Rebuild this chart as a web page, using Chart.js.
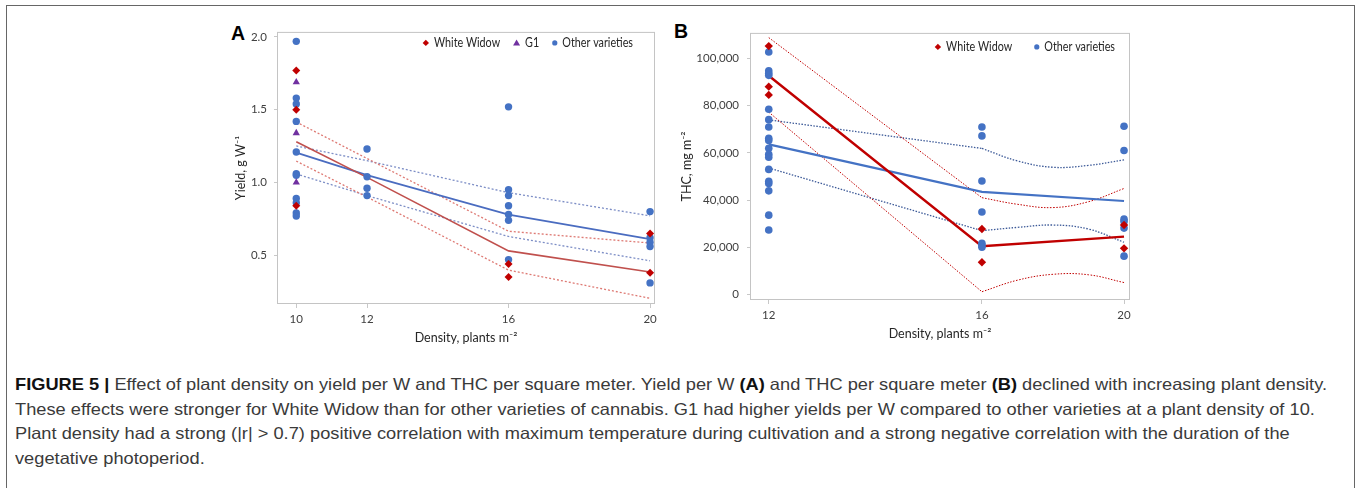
<!DOCTYPE html>
<html>
<head>
<meta charset="utf-8">
<script src="https://cdn.jsdelivr.net/npm/chart.js@4.4.1/dist/chart.umd.min.js"></script>
<style>
  body { margin:0; background:#fff; width:1357px; height:488px; overflow:hidden; position:relative; }
  .frame { position:absolute; left:6px; top:5px; width:1347px; height:520px; border:1.5px solid #666; }
  canvas { position:absolute; }
  .panel { position:absolute; font:bold 19.5px "Liberation Sans", Arial, sans-serif; line-height:1; color:#000; }
  .cap { position:absolute; left:15px; white-space:nowrap; font-size:16.5px; line-height:18px; color:#3a3a3a;
         font-family:"Liberation Sans Narrow","Liberation Sans",Arial,sans-serif; transform-origin:0 0; }
  .cap b { color:#111; }
</style>
</head>
<body>
<div class="frame"></div>
<div class="panel" style="left:231px;top:23.5px">A</div>
<div class="panel" style="left:674px;top:21.5px">B</div>
<canvas id="chartA" width="440" height="335" style="left:225px;top:18px"></canvas>
<canvas id="chartB" width="462" height="335" style="left:678px;top:18px"></canvas>

<div class="cap" style="top:375px"><b>FIGURE 5 |</b> Effect of plant density on yield per W and THC per square meter. Yield per W <b>(A)</b> and THC per square meter <b>(B)</b> declined with increasing plant density.</div>
<div class="cap" style="top:399.5px">These effects were stronger for White Widow than for other varieties of cannabis. G1 had higher yields per W compared to other varieties at a plant density of 10.</div>
<div class="cap" style="top:424px">Plant density had a strong (|r| &gt; 0.7) positive correlation with maximum temperature during cultivation and a strong negative correlation with the duration of the</div>
<div class="cap" style="top:448.5px">vegetative photoperiod.</div>

<script>
// ---- panel A : yield per W ----
const densityA = [10, 12, 16, 20];
const whiteWidowA = [[1.77, 1.50, 0.84], [], [0.44, 0.35], [0.65, 0.38]];
const g1A = [[1.69, 1.34, 1.00], [], [], []];
const otherA = [
  [1.97, 1.58, 1.54, 1.42, 1.21, 1.06, 1.05, 0.89, 0.86, 0.79, 0.77],
  [1.23, 1.04, 0.96, 0.91],
  [1.52, 0.95, 0.91, 0.84, 0.78, 0.74, 0.47],
  [0.80, 0.62, 0.59, 0.56, 0.31]
];
const wwFitA = [1.28, 1.035, 0.53, 0.385];
const wwUpperA = [1.416, 1.165, 0.665, 0.584];
const wwLowerA = [1.147, 0.90, 0.398, 0.204];
const otherFitA = [1.206, 1.05, 0.78, 0.611];
const otherUpperA = [1.251, 1.15, 0.93, 0.771];
const otherLowerA = [1.059, 0.91, 0.629, 0.462];
const yTicksA = [0.5, 1.0, 1.5, 2.0];

// ---- panel B : THC per square meter ----
const densityB = [12, 16, 20];
const whiteWidowB = [[105300, 88100, 84600], [27700, 13600], [29400, 19500]];
const otherB = [
  [102800, 94800, 93800, 92900, 78500, 74100, 71000, 66200, 65300, 62000, 59400, 58200, 53000, 48000, 47000, 43900, 33600, 27300],
  [71000, 67200, 48100, 34900, 21700, 20700, 20000],
  [71300, 61000, 31900, 30900, 28100, 16200]
];
const wwFitB = [92700, 20400, 24500];
const otherFitB = [63600, 43500, 39600];
// bands: straight from 12 to 16, smooth curve from 16 to 20
const bandDensB = [12, 16, 17, 18, 19, 20];
const wwUpperB = [108900, 41000, 38200, 36800, 39300, 44900];
const wwLowerB = [77300, 1100, 6000, 8500, 8300, 5000];
const otherUpperB = [74000, 61900, 56600, 53900, 54700, 57000];
const otherLowerB = [53600, 27000, 28400, 29400, 27700, 22100];
const yTicksB = [0, 20000, 40000, 60000, 80000, 100000];

Chart.defaults.font.family = 'Lato, "Open Sans", sans-serif';
Chart.defaults.animation = false;

const pts = (xs, groups) => groups.flatMap((vals, i) => vals.map(v => ({x: xs[i], y: v})));
const line = (xs, ys) => ys.map((v, i) => ({x: xs[i], y: v}));

// the B axis places 12, 16, 20 at uneven spacing (3 slots then 2 slots)
const slotB = d => d <= 16 ? (d - 12) * 0.75 : 3 + (d - 16) * 0.5;

function marker(ctx, style, x, y, r, color) {
  ctx.fillStyle = color;
  ctx.beginPath();
  if (style === 'circle') ctx.arc(x, y, r, 0, Math.PI * 2);
  else if (style === 'rectRot') { ctx.moveTo(x, y - r); ctx.lineTo(x + r, y); ctx.lineTo(x, y + r); ctx.lineTo(x - r, y); }
  else { ctx.moveTo(x, y - r); ctx.lineTo(x + r, y + r * 0.75); ctx.lineTo(x - r, y + r * 0.75); }
  ctx.closePath();
  ctx.fill();
}

const SQUEEZE = 0.86; // legend font in the figure is narrower than Lato

const framePlugin = {
  id: 'frameLegend',
  beforeDatasetsDraw(chart) {
    const {ctx, chartArea: a} = chart;
    ctx.save();
    ctx.strokeStyle = '#c4c4c4';
    ctx.lineWidth = 1;
    ctx.strokeRect(a.left + 0.5, a.top + 0.5, a.right - a.left - 1, a.bottom - a.top - 1);
    ctx.restore();
  },
  afterDraw(chart, args, opts) {
    const {ctx, chartArea: a} = chart;
    ctx.save();
    ctx.font = '12.5px Lato, "Open Sans", sans-serif';
    ctx.textBaseline = 'middle';
    const tw = opts.items.map(it => ctx.measureText(it.text).width * SQUEEZE);
    const widths = opts.items.map((it, i) => it.r * 2 + 5 + tw[i]);
    const total = widths.reduce((s, w) => s + w, 0) + opts.gap * (opts.items.length - 1);
    let x = a.right - opts.right - total;
    const y = a.top + opts.top;
    opts.items.forEach((it, i) => {
      marker(ctx, it.style, x + it.r, y, it.r, it.color);
      ctx.save();
      ctx.translate(x + it.r * 2 + 5, y + 0.5);
      ctx.scale(SQUEEZE, 1);
      ctx.fillStyle = '#262626';
      ctx.fillText(it.text, 0, 0);
      ctx.restore();
      x += widths[i] + opts.gap;
    });
    ctx.restore();
  }
};

const tickFont = {size: 11.5};
const titleFont = {size: 12.5};

function pointSet(label, data, style, r, color) {
  return {label, data, showLine: false, pointStyle: style, pointRadius: r, pointHoverRadius: r,
          pointBackgroundColor: color, pointBorderWidth: 0, backgroundColor: color};
}
function lineSet(label, data, color, width, dash, tension) {
  return {label, data, showLine: true, pointRadius: 0, borderColor: color, borderWidth: width,
          borderDash: dash || [], tension: tension || 0, fill: false};
}

new Chart(document.getElementById('chartA'), {
  type: 'scatter',
  data: {
    datasets: [
      pointSet('White Widow', pts(densityA, whiteWidowA), 'rectRot', 4, '#c00000'),
      pointSet('G1', pts(densityA, g1A), 'triangle', 4.2, '#7030a0'),
      pointSet('Other varieties', pts(densityA, otherA), 'circle', 3.7, '#4472c4'),
      lineSet('WW fit', line(densityA, wwFitA), '#c0504d', 1.6),
      lineSet('Other fit', line(densityA, otherFitA), '#4a6cc0', 1.8),
      lineSet('WW upper', line(densityA, wwUpperA), '#de7a74', 1.3, [2, 2]),
      lineSet('WW lower', line(densityA, wwLowerA), '#de7a74', 1.3, [2, 2]),
      lineSet('Other upper', line(densityA, otherUpperA), '#7d8ec6', 1.3, [2, 2]),
      lineSet('Other lower', line(densityA, otherLowerA), '#7d8ec6', 1.3, [2, 2])
    ]
  },
  options: {
    responsive: false,
    layout: {padding: {left: 0, right: 10, top: 11, bottom: 0}},
    plugins: {
      legend: {display: false}, tooltip: {enabled: false},
      frameLegend: {right: 22, top: 11, gap: 13, items: [
        {text: 'White Widow', style: 'rectRot', r: 3.2, color: '#c00000'},
        {text: 'G1', style: 'triangle', r: 3.5, color: '#7030a0'},
        {text: 'Other varieties', style: 'circle', r: 2.6, color: '#4472c4'}
      ]}
    },
    scales: {
      x: {
        type: 'linear', min: 9.455, max: 20.14,
        afterBuildTicks: s => { s.ticks = densityA.map(v => ({value: v})); },
        afterFit: s => { s.height = 49; },
        ticks: {color: '#404040', font: tickFont, padding: 4, maxRotation: 0},
        grid: {drawOnChartArea: false, tickLength: 4, color: '#c8c8c8'},
        border: {display: false},
        title: {display: true, text: 'Density, plants m⁻²', color: '#262626', font: titleFont, padding: {top: 0, bottom: 8}}
      },
      y: {
        min: 0.165, max: 2.035,
        afterBuildTicks: s => { s.ticks = yTicksA.map(v => ({value: v})); },
        afterFit: s => { s.width = 52; },
        ticks: {color: '#404040', font: tickFont, padding: 7, callback: v => v.toFixed(1)},
        grid: {drawOnChartArea: false, tickLength: 3, color: '#c8c8c8'},
        border: {display: false},
        title: {display: true, text: 'Yield, g W⁻¹', color: '#262626', font: titleFont, padding: {top: 8, bottom: 0}}
      }
    }
  },
  plugins: [framePlugin]
});

const bandX = bandDensB.map(slotB);
const straight = ys => line(bandX.slice(0, 2), ys.slice(0, 2));
const curved = ys => line(bandX.slice(1), ys.slice(1));
const xSlotsB = densityB.map(slotB);

new Chart(document.getElementById('chartB'), {
  type: 'scatter',
  data: {
    datasets: [
      pointSet('White Widow', pts(xSlotsB, whiteWidowB), 'rectRot', 4.2, '#c00000'),
      pointSet('Other varieties', pts(xSlotsB, otherB), 'circle', 3.8, '#4472c4'),
      lineSet('WW fit', line(xSlotsB, wwFitB), '#c00000', 2.4),
      lineSet('Other fit', line(xSlotsB, otherFitB), '#4472c4', 2.2),
      lineSet('WW upper a', straight(wwUpperB), '#c00000', 1, [1.5, 1.5]),
      lineSet('WW upper b', curved(wwUpperB), '#c00000', 1, [1.5, 1.5], 0.4),
      lineSet('WW lower a', straight(wwLowerB), '#c00000', 1, [1.5, 1.5]),
      lineSet('WW lower b', curved(wwLowerB), '#c00000', 1, [1.5, 1.5], 0.4),
      lineSet('Other upper a', straight(otherUpperB), '#3d5a98', 1.3, [1.5, 1.5]),
      lineSet('Other upper b', curved(otherUpperB), '#3d5a98', 1.3, [1.5, 1.5], 0.4),
      lineSet('Other lower a', straight(otherLowerB), '#3d5a98', 1.3, [1.5, 1.5]),
      lineSet('Other lower b', curved(otherLowerB), '#3d5a98', 1.3, [1.5, 1.5], 0.4)
    ]
  },
  options: {
    responsive: false,
    layout: {padding: {left: 0, right: 10, top: 12, bottom: 0}},
    plugins: {
      legend: {display: false}, tooltip: {enabled: false},
      frameLegend: {right: 15, top: 14, gap: 22, items: [
        {text: 'White Widow', style: 'rectRot', r: 3.2, color: '#c00000'},
        {text: 'Other varieties', style: 'circle', r: 2.6, color: '#4472c4'}
      ]}
    },
    scales: {
      x: {
        type: 'linear', min: -0.264, max: 5.084,
        afterBuildTicks: s => { s.ticks = xSlotsB.map(v => ({value: v})); },
        afterFit: s => { s.height = 53; },
        ticks: {color: '#404040', font: tickFont, padding: 4, maxRotation: 0,
                callback: v => densityB[xSlotsB.indexOf(v)]},
        grid: {drawOnChartArea: false, tickLength: 4, color: '#c8c8c8'},
        border: {display: false},
        title: {display: true, text: 'Density, plants m⁻²', color: '#262626', font: titleFont, padding: {top: 0, bottom: 12}}
      },
      y: {
        min: -2400, max: 110900,
        afterBuildTicks: s => { s.ticks = yTicksB.map(v => ({value: v})); },
        afterFit: s => { s.width = 72; },
        ticks: {color: '#404040', font: tickFont, padding: 8, callback: v => v.toLocaleString('en-US')},
        grid: {drawOnChartArea: false, tickLength: 3, color: '#c8c8c8'},
        border: {display: false},
        title: {display: true, text: 'THC, mg m⁻²', color: '#262626', font: titleFont, padding: {top: 1, bottom: 0}}
      }
    }
  },
  plugins: [framePlugin]
});

// caption font is condensed: squeeze the lines so the first one spans the same width as the figure
const caps = document.querySelectorAll('.cap');
const s = 1312 / caps[0].getBoundingClientRect().width;
caps.forEach(c => { c.style.transform = 'scaleX(' + s + ')'; });
</script>
</body>
</html>
